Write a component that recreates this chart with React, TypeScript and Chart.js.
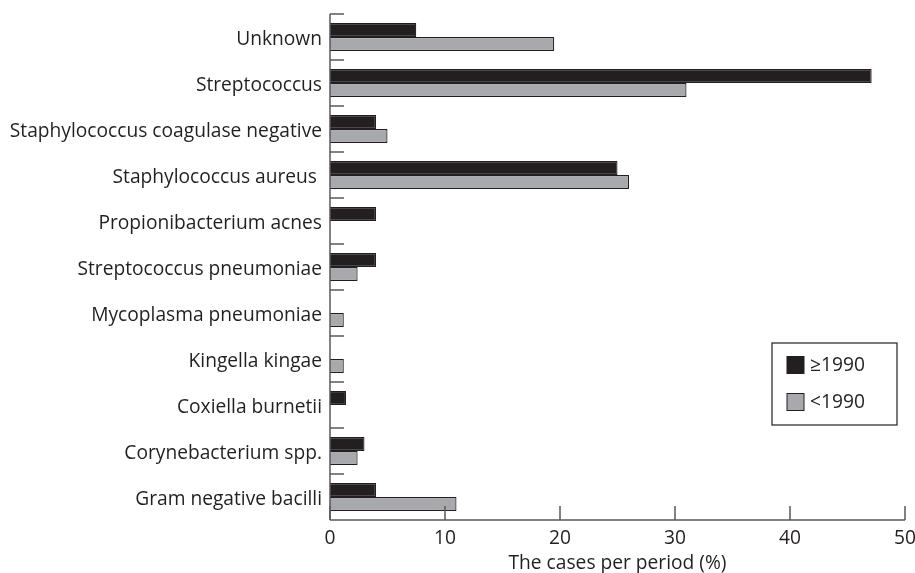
import React, { useEffect, useRef } from "react";
import { Chart, registerables } from "chart.js";

Chart.register(...registerables);

const categories = [
  "Unknown",
  "Streptococcus",
  "Staphylococcus coagulase negative",
  "Staphylococcus aureus ",
  "Propionibacterium acnes",
  "Streptococcus pneumoniae",
  "Mycoplasma pneumoniae",
  "Kingella kingae",
  "Coxiella burnetii",
  "Corynebacterium spp.",
  "Gram negative bacilli",
];

const series1990After: (number | null)[] = [7.5, 47.1, 4, 25, 4, 4, null, null, 1.4, 3, 4];
const series1990Before: (number | null)[] = [19.5, 31, 5, 26, null, 2.4, 1.2, 1.2, null, 2.4, 11];

const xTicks = [0, 10, 20, 30, 40, 50];
const seriesLabels = ["≥1990", "<1990"];

const FONT = "'Open Sans'";
const FSIZE = 19.2;
const AXIS = "#58595b";
const TEXT = "#231f20";

const customAxes = {
  id: "customAxes",
  afterDatasetsDraw(chart: any) {
    const { ctx, chartArea, scales } = chart;
    const x = scales.x;
    const y = scales.y;
    ctx.save();
    ctx.strokeStyle = AXIS;
    ctx.lineWidth = 1.5;
    ctx.beginPath();
    ctx.moveTo(chartArea.left, chartArea.top);
    ctx.lineTo(chartArea.left, chartArea.bottom);
    ctx.stroke();
    ctx.beginPath();
    ctx.moveTo(chartArea.left, chartArea.bottom);
    ctx.lineTo(chartArea.right, chartArea.bottom);
    ctx.stroke();
    const n = categories.length;
    for (let i = 0; i < n; i++) {
      const py = i === 0 ? chartArea.top : (y.getPixelForValue(i - 1) + y.getPixelForValue(i)) / 2;
      ctx.beginPath();
      ctx.moveTo(chartArea.left, py);
      ctx.lineTo(chartArea.left + 14, py);
      ctx.stroke();
    }
    xTicks.forEach((v) => {
      const px = x.getPixelForValue(v);
      ctx.beginPath();
      ctx.moveTo(px, chartArea.bottom);
      ctx.lineTo(px, chartArea.bottom - 14);
      ctx.stroke();
    });
    ctx.restore();
  },
  afterDraw(chart: any) {
    const { ctx, chartArea } = chart;
    const right = chartArea.right - 8;
    const bottom = chartArea.bottom - 95;
    const w = 125;
    const h = 82;
    const left = right - w;
    const top = bottom - h;
    ctx.save();
    ctx.fillStyle = "#ffffff";
    ctx.fillRect(left, top, w, h);
    ctx.strokeStyle = "#231f20";
    ctx.lineWidth = 1.2;
    ctx.strokeRect(left, top, w, h);
    chart.data.datasets.forEach((ds: any, i: number) => {
      const cy = top + 22 + i * 37;
      ctx.fillStyle = ds.backgroundColor;
      ctx.fillRect(left + 15, cy - 8.5, 17, 17);
      ctx.strokeStyle = "#231f20";
      ctx.lineWidth = 1;
      ctx.strokeRect(left + 15, cy - 8.5, 17, 17);
      ctx.fillStyle = TEXT;
      ctx.font = `${FSIZE}px ${FONT}`;
      ctx.textBaseline = "middle";
      ctx.textAlign = "left";
      ctx.fillText(ds.label, left + 38, cy + 1);
    });
    ctx.restore();
  },
};

export default function App() {
  const ref = useRef<HTMLCanvasElement | null>(null);
  useEffect(() => {
    if (!ref.current) return;
    const chart = new Chart(ref.current, {
      type: "bar",
      data: {
        labels: categories,
        datasets: [
          {
            label: seriesLabels[0],
            data: series1990After,
            backgroundColor: "#231f20",
            borderColor: "#231f20",
            borderWidth: 1.2,
          },
          {
            label: seriesLabels[1],
            data: series1990Before,
            backgroundColor: "#a7a9ac",
            borderColor: "#231f20",
            borderWidth: 1.2,
          },
        ],
      },
      options: {
        indexAxis: "y",
        responsive: false,
        animation: false,
        devicePixelRatio: 1,
        layout: { padding: { top: 14, right: 10, left: 0, bottom: 0 } },
        datasets: {
          bar: { categoryPercentage: 0.61, barPercentage: 1 },
        },
        plugins: {
          legend: { display: false },
          tooltip: { enabled: false },
        },
        scales: {
          x: {
            min: 0,
            max: 50,
            ticks: {
              stepSize: 10,
              color: TEXT,
              font: { family: FONT, size: FSIZE },
              padding: 7,
              maxRotation: 0,
            },
            grid: { display: false, drawTicks: false },
            border: { display: false },
            title: {
              display: true,
              text: "The cases per period (%)",
              color: TEXT,
              font: { family: FONT, size: FSIZE, lineHeight: 1.0 },
              padding: { top: 0, bottom: 0 },
            },
            afterFit: (s: any) => {
              s.height = 53;
              s.paddingRight = 0;
              s.paddingLeft = 0;
            },
          },
          y: {
            offset: true,
            ticks: {
              color: TEXT,
              font: { family: FONT, size: FSIZE },
              padding: 8,
              labelOffset: 3,
              autoSkip: false,
            },
            grid: { display: false, drawTicks: false, offset: true },
            border: { display: false },
            afterFit: (s: any) => {
              s.width = 330;
              s.paddingTop = 0;
              s.paddingBottom = 0;
            },
          },
        },
      },
      plugins: [customAxes],
    });
    return () => chart.destroy();
  }, []);
  return (
    <div style={{ position: "fixed", left: 0, top: 0, width: 915, height: 573, background: "#fff" }}>
      <canvas ref={ref} width={915} height={573} style={{ display: "block", width: 915, height: 573 }} />
    </div>
  );
}
